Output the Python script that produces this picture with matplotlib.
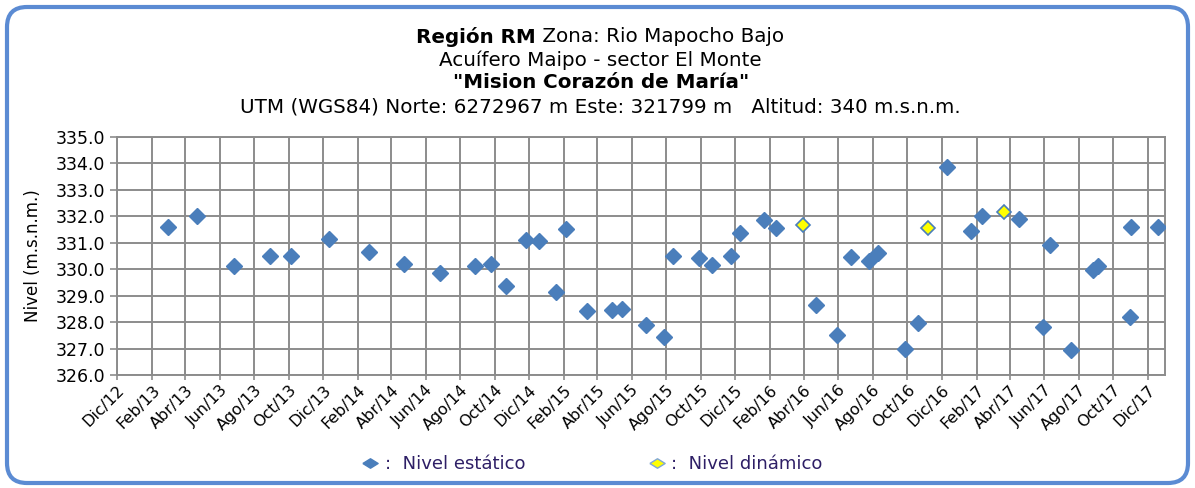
import numpy as np
import pandas as pd
import matplotlib
matplotlib.use("Agg")
import matplotlib.pyplot as plt
import matplotlib.dates as mdates
from matplotlib.patches import FancyBboxPatch
from matplotlib.lines import Line2D
from matplotlib.ticker import FuncFormatter

# static level measurements (m.s.n.m.)
fechas_est = pd.to_datetime([
    "2013-03-01", "2013-04-22", "2013-06-27", "2013-08-29", "2013-10-05",
    "2013-12-12", "2014-02-20", "2014-04-24", "2014-06-26", "2014-08-27",
    "2014-09-25", "2014-10-21", "2014-11-25", "2014-12-18", "2015-01-17",
    "2015-02-05", "2015-03-13", "2015-04-27", "2015-05-14", "2015-06-26",
    "2015-07-28", "2015-08-13", "2015-09-29", "2015-10-21", "2015-11-24",
    "2015-12-10", "2016-01-22", "2016-02-12", "2016-04-22", "2016-05-30",
    "2016-06-23", "2016-07-25", "2016-08-10", "2016-09-28", "2016-10-21",
    "2016-12-10", "2017-01-23", "2017-02-10", "2017-04-17", "2017-05-30",
    "2017-06-12", "2017-07-19", "2017-08-27", "2017-09-05", "2017-10-31",
    "2017-11-02", "2017-12-19",
])
nivel_est = [
    331.6, 332.0, 330.1, 330.5, 330.5,
    331.15, 330.65, 330.2, 329.85, 330.1,
    330.2, 329.35, 331.1, 331.05, 329.15,
    331.5, 328.4, 328.45, 328.5, 327.9,
    327.45, 330.5, 330.4, 330.15, 330.5,
    331.35, 331.85, 331.55, 328.65, 327.5,
    330.45, 330.3, 330.6, 327.0, 327.95,
    333.85, 331.45, 332.0, 331.9, 327.8,
    330.9, 326.95, 329.95, 330.1, 328.2,
    331.6, 331.6,
]

# dynamic level measurements
fechas_din = pd.to_datetime(["2016-03-30", "2016-11-07", "2017-03-21"])
nivel_din = [331.65, 331.55, 332.15]

meses = ["Ene", "Feb", "Mar", "Abr", "May", "Jun",
         "Jul", "Ago", "Sep", "Oct", "Nov", "Dic"]

azul = "#4A7EBB"
gris = "#8C8C8C"

fig = plt.figure(figsize=(11.95, 4.88), dpi=100)
ax = fig.add_axes([117 / 1195, 1 - 375 / 488, (1165 - 117) / 1195, (375 - 136.7) / 488])

# rounded frame around the whole chart
marco = FancyBboxPatch((0.07, 0.05), 11.81, 4.76,
                       boxstyle="round,pad=0,rounding_size=0.2",
                       transform=fig.dpi_scale_trans, fill=False,
                       edgecolor="#5B8BD3", linewidth=3, zorder=0)
fig.add_artist(marco)

ax.plot(fechas_est, nivel_est, linestyle="none", marker="D", markersize=8.5,
        color=azul, markeredgecolor=azul, zorder=3)
ax.plot(fechas_din, nivel_din, linestyle="none", marker="D", markersize=7,
        markerfacecolor="#FFFF00", markeredgecolor=azul, markeredgewidth=1.2,
        zorder=4)

ax.set_xlim(pd.Timestamp("2012-12-01"), pd.Timestamp("2018-01-01"))
ax.set_ylim(326, 335)
ax.set_yticks(np.arange(326, 335.5, 1))
ax.yaxis.set_major_formatter(FuncFormatter(lambda v, p: f"{v:.1f}"))

ax.xaxis.set_major_locator(mdates.MonthLocator(bymonth=[12, 2, 4, 6, 8, 10]))
ax.xaxis.set_major_formatter(FuncFormatter(
    lambda v, p: f"{meses[mdates.num2date(v).month - 1]}/{mdates.num2date(v).year % 100:02d}"))

ax.grid(True, color=gris, linewidth=1.4)
ax.set_axisbelow(True)
for s in ax.spines.values():
    s.set_color(gris)
    s.set_linewidth(1.4)

ax.tick_params(axis="x", direction="inout", length=7, color=gris, width=1.2,
               labelsize=11.5, pad=2)
ax.tick_params(axis="y", direction="out", length=5, color=gris, width=1.2,
               labelsize=12.5)
for lab in ax.get_xticklabels():
    lab.set_rotation(45)
    lab.set_ha("right")
    lab.set_rotation_mode("anchor")

ax.set_ylabel("Nivel (m.s.n.m.)", fontsize=12, labelpad=10)

# title block
fs = 14.3
r = fig.canvas.get_renderer()
t1a = fig.text(0, 1 - 37 / 488, "Región RM", fontsize=fs, fontweight="bold", va="center")
t1b = fig.text(0, 1 - 37 / 488, " Zona: Rio Mapocho Bajo", fontsize=fs, va="center")
w1 = t1a.get_window_extent(r).width
w2 = t1b.get_window_extent(r).width
x0 = 600 - (w1 + w2) / 2
t1a.set_x(x0 / 1195)
t1b.set_x((x0 + w1) / 1195)
fig.text(600 / 1195, 1 - 60 / 488, "Acuífero Maipo - sector El Monte",
         fontsize=fs, ha="center", va="center")
fig.text(601 / 1195, 1 - 83 / 488, '"Mision Corazón de María"',
         fontsize=fs, fontweight="bold", ha="center", va="center")
fig.text(600 / 1195, 1 - 107 / 488,
         "UTM (WGS84) Norte: 6272967 m Este: 321799 m   Altitud: 340 m.s.n.m.",
         fontsize=fs, ha="center", va="center")

# legend with flattened diamond keys
rombo = [(-1, 0), (0, 0.62), (1, 0), (0, -0.62), (-1, 0)]
h_est = Line2D([], [], linestyle="none", marker=rombo, markersize=11,
               color=azul, markeredgecolor=azul)
h_din = Line2D([], [], linestyle="none", marker=rombo, markersize=11,
               markerfacecolor="#FFFF00", markeredgecolor="#7FA6D6", markeredgewidth=1)
leg = fig.legend([h_est, h_din], [":  Nivel estático", ":  Nivel dinámico"],
                 loc="center left", bbox_to_anchor=(345 / 1195, 1 - 464 / 488), ncol=2,
                 frameon=False, fontsize=13, handletextpad=0.3,
                 columnspacing=6.8, handlelength=1.0)
for t in leg.get_texts():
    t.set_color("#2E1F66")

fig.savefig("out.png", dpi=100)
